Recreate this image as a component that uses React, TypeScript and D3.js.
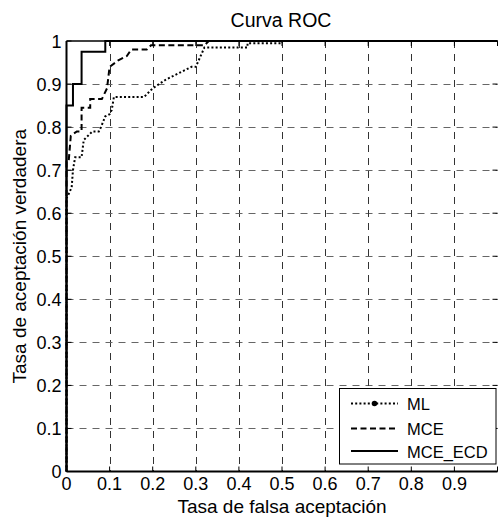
import React, { useRef, useEffect } from 'react';
import * as d3 from 'd3';

// data
const seriesNames = ['ML', 'MCE', 'MCE_ECD'];
const mlFpr = [0, 0, 0.003, 0.012, 0.015, 0.02, 0.035, 0.04, 0.06, 0.075, 0.08, 0.09, 0.1, 0.105, 0.11, 0.18, 0.2, 0.23, 0.29, 0.3, 0.32, 0.42, 0.42, 0.5, 0.5, 1];
const mlTpr = [0, 0.635, 0.64, 0.66, 0.7, 0.73, 0.73, 0.77, 0.79, 0.79, 0.8, 0.825, 0.83, 0.84, 0.87, 0.87, 0.89, 0.91, 0.94, 0.94, 0.985, 0.985, 0.995, 0.995, 1, 1];
const mceFpr = [0, 0, 0.005, 0.01, 0.024, 0.035, 0.035, 0.055, 0.055, 0.082, 0.094, 0.1, 0.12, 0.14, 0.15, 0.186, 0.196, 0.32, 0.33, 1];
const mceTpr = [0, 0.72, 0.72, 0.78, 0.79, 0.79, 0.845, 0.845, 0.865, 0.865, 0.89, 0.94, 0.955, 0.965, 0.98, 0.98, 0.99, 0.99, 1, 1];
const ecdFpr = [0, 0, 0.015, 0.015, 0.035, 0.035, 0.09, 0.09, 1];
const ecdTpr = [0, 0.85, 0.85, 0.9, 0.9, 0.975, 0.975, 1, 1];
const tickValues = [0, 0.1, 0.2, 0.3, 0.4, 0.5, 0.6, 0.7, 0.8, 0.9, 1];
const xTickLabels = ['0', '0.1', '0.2', '0.3', '0.4', '0.5', '0.6', '0.7', '0.8', '0.9', ''];
const yTickLabels = ['0', '0.1', '0.2', '0.3', '0.4', '0.5', '0.6', '0.7', '0.8', '0.9', '1'];

const FONT = 'Liberation Sans, Arial, Helvetica, sans-serif';

const App = () => {
  const ref = useRef<SVGSVGElement>(null);

  useEffect(() => {
    const width = 498, height = 518;
    const x = d3.scaleLinear().domain([0, 1]).range([66.5, 497.5]);
    const y = d3.scaleLinear().domain([0, 1]).range([471.5, 41]);

    const svg = d3.select(ref.current);
    svg.selectAll('*').remove();
    svg.attr('width', width).attr('height', height);

    svg.append('rect').attr('width', width).attr('height', height).attr('fill', '#fff');

    // grid: vertical darker, horizontal greyer
    const grid = svg.append('g').attr('stroke-width', 1).attr('stroke-dasharray', '7,6');
    tickValues.slice(1, 10).forEach(v => {
      grid.append('line')
        .attr('stroke', '#333')
        .attr('x1', Math.round(x(v)) + 0.5).attr('x2', Math.round(x(v)) + 0.5)
        .attr('y1', y(1)).attr('y2', y(0));
      grid.append('line')
        .attr('stroke', '#666')
        .attr('x1', x(0)).attr('x2', x(1))
        .attr('y1', Math.round(y(v)) + 0.5).attr('y2', Math.round(y(v)) + 0.5);
    });

    // curves
    const series = [
      { fpr: mlFpr, tpr: mlTpr, dash: '2,2.2' },
      { fpr: mceFpr, tpr: mceTpr, dash: '6,3.5' },
      { fpr: ecdFpr, tpr: ecdTpr, dash: null },
    ];
    const lineGen = d3.line<[number, number]>().x(d => x(d[0])).y(d => y(d[1]));
    series.forEach(s => {
      const pts = s.fpr.map((f, i) => [f, s.tpr[i]] as [number, number]);
      svg.append('path')
        .attr('d', lineGen(pts))
        .attr('fill', 'none')
        .attr('stroke', '#000')
        .attr('stroke-width', 2)
        .attr('stroke-dasharray', s.dash);
    });

    // axes box
    const ax = svg.append('g').attr('stroke', '#000').attr('fill', 'none');
    ax.append('line').attr('x1', x(0)).attr('x2', x(1)).attr('y1', y(0)).attr('y2', y(0)).attr('stroke-width', 2);
    ax.append('line').attr('x1', x(0)).attr('x2', x(0)).attr('y1', y(0)).attr('y2', y(1)).attr('stroke-width', 2);
    ax.append('line').attr('x1', x(0)).attr('x2', x(1)).attr('y1', y(1)).attr('y2', y(1)).attr('stroke-width', 1.5);

    const tl = 5;
    tickValues.forEach(v => {
      ax.append('line').attr('x1', x(v)).attr('x2', x(v)).attr('y1', y(0)).attr('y2', y(0) - tl);
      ax.append('line').attr('x1', x(v)).attr('x2', x(v)).attr('y1', y(1)).attr('y2', y(1) + tl);
      ax.append('line').attr('x1', x(0)).attr('x2', x(0) + tl).attr('y1', y(v)).attr('y2', y(v));
      ax.append('line').attr('x1', x(1)).attr('x2', x(1) - tl).attr('y1', y(v)).attr('y2', y(v));
    });

    // tick labels
    const txt = svg.append('g').attr('font-family', FONT).attr('fill', '#000');
    tickValues.forEach((v, i) => {
      txt.append('text')
        .attr('x', x(v)).attr('y', 489.5)
        .attr('text-anchor', 'middle')
        .attr('font-size', 18)
        .text(xTickLabels[i]);
      txt.append('text')
        .attr('x', 61.5).attr('y', y(v) + 6.5)
        .attr('text-anchor', 'end')
        .attr('font-size', 18)
        .text(yTickLabels[i]);
    });

    txt.append('text')
      .attr('x', 281).attr('y', 27)
      .attr('text-anchor', 'middle')
      .attr('font-size', 19.5)
      .text('Curva ROC');
    txt.append('text')
      .attr('x', 282).attr('y', 512.5)
      .attr('text-anchor', 'middle')
      .attr('font-size', 19)
      .text('Tasa de falsa aceptación');
    txt.append('text')
      .attr('transform', `translate(26,${(y(0) + y(1)) / 2}) rotate(-90)`)
      .attr('text-anchor', 'middle')
      .attr('font-size', 19)
      .text('Tasa de aceptación verdadera');

    // legend
    const lg = svg.append('g');
    lg.append('rect')
      .attr('x', 339.5).attr('y', 388.5).attr('width', 156.5).attr('height', 75.5)
      .attr('fill', '#fff').attr('stroke', '#000').attr('stroke-width', 1);
    const rowsY = [403.5, 428.5, 451];
    series.forEach((s, i) => {
      lg.append('line')
        .attr('x1', 351).attr('x2', 398)
        .attr('y1', rowsY[i]).attr('y2', rowsY[i])
        .attr('stroke', '#000').attr('stroke-width', 2)
        .attr('stroke-dasharray', s.dash);
      if (i === 0) {
        lg.append('circle').attr('cx', 374.5).attr('cy', rowsY[i]).attr('r', 2.8).attr('fill', '#000');
      }
      lg.append('text')
        .attr('x', 407).attr('y', rowsY[i] + 6.5)
        .attr('font-family', FONT).attr('font-size', 16.5)
        .text(seriesNames[i]);
    });
  }, []);

  return <svg ref={ref} style={{ position: 'absolute', left: 0, top: 0, display: 'block' }} />;
};

export default App;
